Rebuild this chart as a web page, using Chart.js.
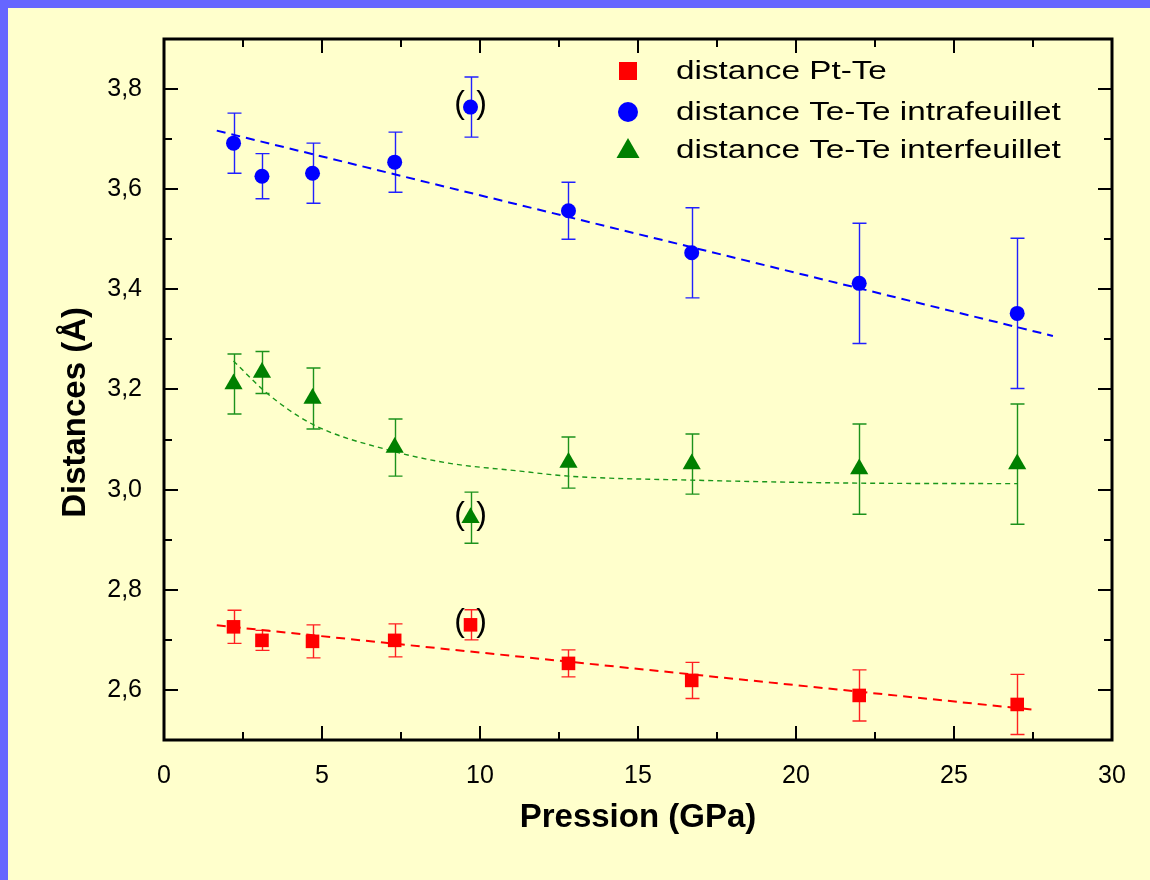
<!DOCTYPE html>
<html>
<head>
<meta charset="utf-8">
<title>Distances vs pression</title>
<script src="https://cdn.jsdelivr.net/npm/chart.js@4/dist/chart.umd.min.js"></script>
<style>
  html, body {
    margin: 0;
    padding: 0;
    background: #6666ff;
    overflow: hidden;
  }
  #wrap {
    position: absolute;
    left: 8px;
    top: 8px;
    width: 1142px;
    height: 872px;
    background: #ffffcc;
  }
</style>
</head>
<body>
<div id="wrap"><canvas id="distChart"></canvas></div>
<script>
// =========================
// DATA
// =========================

const pressure = [2.2, 3.1, 4.7, 7.3, 9.7, 12.8, 16.7, 22.0, 27.0];

const ptTe = [2.726, 2.699, 2.697, 2.699, 2.73, 2.653, 2.619, 2.589, 2.571];
const ptTeErr = [0.033, 0.02, 0.033, 0.033, 0.03, 0.027, 0.036, 0.051, 0.06];

const intra = [3.692, 3.626, 3.632, 3.654, 3.764, 3.557, 3.473, 3.412, 3.352];
const intraErr = [0.06, 0.045, 0.06, 0.06, 0.06, 0.057, 0.09, 0.12, 0.15];

const inter = [3.211, 3.234, 3.182, 3.084, 2.944, 3.054, 3.051, 3.041, 3.051];
const interErr = [0.06, 0.042, 0.061, 0.057, 0.051, 0.051, 0.06, 0.09, 0.12];

// point shown between brackets in the figure (index in pressure[])
const doubtful = 4;

// fitted lines
const fitPtTeX = [1.67, 27.59];
const fitPtTeY = [2.729, 2.56];

const fitIntraX = [1.67, 28.13];
const fitIntraY = [3.717, 3.307];

const fitInterX = [2.2, 3.25, 4.72, 7.05, 9.0, 11.27, 12.8, 16.69, 22.0, 27.0];
const fitInterY = [3.257, 3.193, 3.13, 3.08, 3.053, 3.037, 3.027, 3.019, 3.013, 3.012];

const labels = [
  "distance Pt-Te",
  "distance Te-Te intrafeuillet",
  "distance Te-Te interfeuillet",
];

const xTicks = { min: 0, max: 30, step: 2.5 };
const yTicks = { min: 2.5, max: 3.9, step: 0.1 };

const FONT = "'Liberation Sans', Arial, sans-serif";

function points(xs, ys) {
  return xs.map((x, i) => ({ x: x, y: ys[i] }));
}

// =========================
// PLUGINS
// =========================

const errorBars = {
  id: "errorBars",
  beforeDatasetsDraw(chart) {
    const { ctx } = chart;
    const x = chart.scales.x;
    const y = chart.scales.y;
    chart.data.datasets.forEach((ds) => {
      if (!ds.errors) return;
      ctx.save();
      ctx.strokeStyle = ds.errorColor;
      ctx.lineWidth = 1.4;
      ds.data.forEach((pt, i) => {
        const px = Math.round(x.getPixelForValue(pt.x)) + 0.5;
        const top = y.getPixelForValue(pt.y + ds.errors[i]);
        const bot = y.getPixelForValue(pt.y - ds.errors[i]);
        ctx.beginPath();
        ctx.moveTo(px, top);
        ctx.lineTo(px, bot);
        ctx.moveTo(px - 7, top);
        ctx.lineTo(px + 7, top);
        ctx.moveTo(px - 7, bot);
        ctx.lineTo(px + 7, bot);
        ctx.stroke();
      });
      ctx.restore();
    });
  },
};

const brackets = {
  id: "brackets",
  afterDatasetsDraw(chart) {
    const { ctx } = chart;
    const x = chart.scales.x;
    const y = chart.scales.y;
    ctx.save();
    ctx.fillStyle = "#000";
    ctx.font = "32px " + FONT;
    ctx.textAlign = "center";
    ctx.textBaseline = "middle";
    chart.data.datasets.forEach((ds) => {
      if (!ds.errors) return;
      const pt = ds.data[doubtful];
      const px = x.getPixelForValue(pt.x);
      const py = y.getPixelForValue(pt.y) - 2.7;
      ctx.fillText("(", px - 11, py);
      ctx.fillText(")", px + 11, py);
    });
    ctx.restore();
  },
};

const frame = {
  id: "frame",
  afterDraw(chart) {
    const { ctx, chartArea: a } = chart;
    const x = chart.scales.x;
    const y = chart.scales.y;
    ctx.save();
    ctx.strokeStyle = "#000";

    // inward ticks on all four sides
    ctx.lineWidth = 2;
    ctx.beginPath();
    x.ticks.forEach((t) => {
      const px = Math.round(x.getPixelForValue(t.value));
      const len = t.value % 5 === 0 ? 14 : 8;
      ctx.moveTo(px, a.bottom);
      ctx.lineTo(px, a.bottom - len);
      ctx.moveTo(px, a.top);
      ctx.lineTo(px, a.top + len);
    });
    y.ticks.forEach((t) => {
      const py = Math.round(y.getPixelForValue(t.value));
      const len = Math.round(t.value * 10) % 2 === 0 ? 14 : 8;
      ctx.moveTo(a.left, py);
      ctx.lineTo(a.left + len, py);
      ctx.moveTo(a.right, py);
      ctx.lineTo(a.right - len, py);
    });
    ctx.stroke();

    ctx.lineWidth = 3;
    ctx.strokeRect(a.left, a.top, a.right - a.left, a.bottom - a.top);
    ctx.restore();
  },
};

const boxLegend = {
  id: "boxLegend",
  afterDraw(chart) {
    const { ctx } = chart;
    const mx = 620;
    const tx = 668;
    const rows = [63, 104, 142];
    ctx.save();
    ctx.font = "26px " + FONT;
    ctx.textBaseline = "middle";
    ctx.textAlign = "left";
    chart.data.datasets.slice(0, 3).forEach((ds, i) => {
      const cy = rows[i];
      ctx.fillStyle = ds.backgroundColor;
      ctx.beginPath();
      if (ds.pointStyle === "rect") {
        ctx.rect(mx - 9, cy - 9, 18, 18);
      } else if (ds.pointStyle === "circle") {
        ctx.arc(mx, cy, 10, 0, Math.PI * 2);
      } else {
        ctx.moveTo(mx, cy - 12);
        ctx.lineTo(mx + 11.5, cy + 8);
        ctx.lineTo(mx - 11.5, cy + 8);
        ctx.closePath();
      }
      ctx.fill();

      ctx.fillStyle = "#000";
      ctx.save();
      ctx.translate(tx, cy + 1);
      ctx.scale(1.28, 1);
      ctx.fillText(ds.label, 0, 0);
      ctx.restore();
    });
    ctx.restore();
  },
};

// =========================
// CHART
// =========================

const tickFont = { family: FONT, size: 25 };
const titleFont = { family: FONT, size: 33, weight: "bold" };

new Chart(document.getElementById("distChart"), {
  type: "scatter",
  data: {
    datasets: [
      {
        label: labels[0],
        data: points(pressure, ptTe),
        errors: ptTeErr,
        errorColor: "#ff2020",
        pointStyle: "rect",
        pointRadius: 9.6,
        backgroundColor: "#ff0000",
        borderWidth: 0,
      },
      {
        label: labels[1],
        data: points(pressure, intra),
        errors: intraErr,
        errorColor: "#2020ff",
        pointStyle: "circle",
        pointRadius: 7.5,
        backgroundColor: "#0000ff",
        borderWidth: 0,
      },
      {
        label: labels[2],
        data: points(pressure, inter),
        errors: interErr,
        errorColor: "#1c921c",
        pointStyle: "triangle",
        pointRadius: 10.5,
        backgroundColor: "#008000",
        borderWidth: 0,
      },
      {
        label: "fit Pt-Te",
        data: points(fitPtTeX, fitPtTeY),
        showLine: true,
        pointRadius: 0,
        borderColor: "#ff0000",
        borderWidth: 2,
        borderDash: [9, 6],
      },
      {
        label: "fit intra",
        data: points(fitIntraX, fitIntraY),
        showLine: true,
        pointRadius: 0,
        borderColor: "#0000ff",
        borderWidth: 2,
        borderDash: [9, 6],
      },
      {
        label: "fit inter",
        data: points(fitInterX, fitInterY),
        showLine: true,
        cubicInterpolationMode: "monotone",
        pointRadius: 0,
        borderColor: "#1a961a",
        borderWidth: 1.4,
        borderDash: [5, 4],
      },
    ],
  },
  options: {
    responsive: true,
    maintainAspectRatio: false,
    animation: false,
    events: [],
    layout: {
      padding: { left: 0, right: 38, top: 31, bottom: 0 },
    },
    plugins: {
      legend: { display: false },
      tooltip: { enabled: false },
    },
    scales: {
      x: {
        type: "linear",
        min: xTicks.min,
        max: xTicks.max,
        grid: { display: false },
        border: { display: false },
        ticks: {
          stepSize: xTicks.step,
          autoSkip: false,
          maxRotation: 0,
          color: "#000",
          font: tickFont,
          padding: 13,
          callback: (v) => (v % 5 === 0 ? String(v) : ""),
        },
        title: {
          display: true,
          text: "Pression (GPa)",
          color: "#000",
          font: titleFont,
          padding: { top: 0, bottom: 42 },
        },
        afterFit: (s) => {
          s.height = 140;
        },
      },
      y: {
        type: "linear",
        min: yTicks.min,
        max: yTicks.max,
        grid: { display: false },
        border: { display: false },
        ticks: {
          stepSize: yTicks.step,
          autoSkip: false,
          color: "#000",
          font: tickFont,
          padding: 14,
          callback: (v) =>
            Math.round(v * 10) % 2 === 0 ? v.toFixed(1).replace(".", ",") : "",
        },
        title: {
          display: true,
          text: "Distances (Å)     ",
          color: "#000",
          font: titleFont,
          padding: { top: 48, bottom: 0 },
        },
        afterFit: (s) => {
          s.width = 156;
        },
      },
    },
  },
  plugins: [errorBars, brackets, frame, boxLegend],
});
</script>
</body>
</html>
